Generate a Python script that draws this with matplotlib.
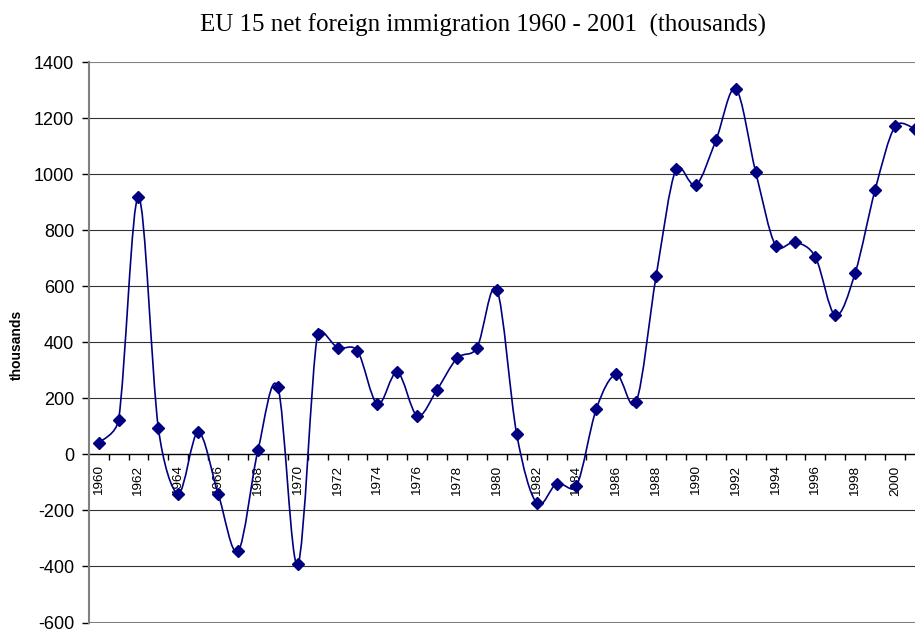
"""EU 15 net foreign immigration 1960 - 2001, Excel-style smoothed line chart."""

import matplotlib

matplotlib.use("Agg")  # headless-safe backend
import matplotlib.pyplot as plt
import numpy as np
from matplotlib.path import Path
from matplotlib.patches import PathPatch

# --------------------------------------------------------------------- #
# Data (thousands)
# --------------------------------------------------------------------- #
YEARS = list(range(1960, 2002))
NET_IMMIGRATION = [
    40, 124, 919, 93, -140, 79, -140, -346, 14, 240,     # 1960-1969
    -393, 431, 381, 369, 179, 293, 138, 231, 343, 380,   # 1970-1979
    588, 71, -174, -105, -113, 163, 285, 187, 636, 1018,  # 1980-1989
    961, 1120, 1304, 1008, 745, 757, 704, 496, 648, 944,  # 1990-1999
    1170, 1162,                                           # 2000-2001
]
Y_TICKS = list(range(-600, 1401, 200))
LABELLED_YEARS = YEARS[::2]

TITLE = "EU 15 net foreign immigration 1960 - 2001  (thousands)"
NAVY = "#000080"
W, H, DPI = 915, 630, 100

# plot area in pixels (runs slightly past the right edge, as in the original)
PX_LEFT, PX_RIGHT = 88.7, 924.9
PX_TOP, PX_BOTTOM = 62.0, 622.5


def smooth_path(xs, ys, sx, sy):
    """Bezier path through every point (Catmull-Rom handles in screen space,
    each capped at half its segment, close to Excel's smoothed line)."""
    pts = np.column_stack([np.asarray(xs) * sx, np.asarray(ys) * sy]).astype(float)
    n = len(pts)

    def handle(i, j):
        # handle at point i, pointing along the segment towards point j
        h = (pts[min(i + 1, n - 1)] - pts[max(i - 1, 0)]) / 6.0
        cap = np.hypot(*(pts[j] - pts[i])) / 2.0
        size = np.hypot(*h)
        if size > cap:
            h *= cap / size
        return h

    verts = [pts[0]]
    codes = [Path.MOVETO]
    for i in range(n - 1):
        verts += [pts[i] + handle(i, i + 1),
                  pts[i + 1] - handle(i + 1, i),
                  pts[i + 1]]
        codes += [Path.CURVE4] * 3
    verts = np.array(verts) / [sx, sy]
    return Path(verts, codes)


fig = plt.figure(figsize=(W / DPI, H / DPI), dpi=DPI)
ax = fig.add_axes([PX_LEFT / W, (H - PX_BOTTOM) / H,
                   (PX_RIGHT - PX_LEFT) / W, (PX_BOTTOM - PX_TOP) / H])

x = np.arange(len(YEARS))
ax.set_xlim(-0.5, len(YEARS) - 0.5)
ax.set_ylim(-600, 1400)

# gridlines
for v in Y_TICKS:
    if v in (-600, 1400):
        ax.axhline(v, color="#808080", lw=1.5, zorder=1)
    elif v != 0:
        ax.axhline(v, color="#333333", lw=0.8, zorder=1)

# data
px_per_year = (PX_RIGHT - PX_LEFT) / len(YEARS)
px_per_unit = (PX_BOTTOM - PX_TOP) / 2000
ax.add_patch(PathPatch(smooth_path(x, NET_IMMIGRATION, px_per_year, px_per_unit),
                       fill=False, edgecolor=NAVY, lw=1.2, zorder=3))
ax.plot(x, NET_IMMIGRATION, ls="none", marker="D", ms=6.3,
        color=NAVY, zorder=4)

# spines / axes
for side in ("top", "right"):
    ax.spines[side].set_visible(False)
ax.spines["left"].set_color("#808080")
ax.spines["left"].set_linewidth(1.5)
ax.spines["bottom"].set_position(("data", 0))
ax.spines["bottom"].set_color("black")
ax.spines["bottom"].set_linewidth(1.0)
ax.spines["bottom"].set_zorder(2)

ax.set_yticks(Y_TICKS)
ax.set_yticklabels([str(v) for v in Y_TICKS], fontfamily="Liberation Sans",
                   fontsize=13)
ax.tick_params(axis="y", direction="out", length=5, width=1, pad=5.5,
               color="black")

ax.set_xticks([YEARS.index(y) for y in LABELLED_YEARS])
ax.set_xticklabels([str(y) for y in LABELLED_YEARS], rotation=90,
                   fontfamily="Liberation Sans", fontsize=9.7)
ax.set_xticks(x[:-1] + 0.5, minor=True)
ax.tick_params(axis="x", which="major", length=0, pad=8)
ax.tick_params(axis="x", which="minor", direction="out", length=4.5,
               width=1, color="black")

fig.text(17 / W, 1 - 345 / H, "thousands", rotation=90, ha="center",
         va="center", fontfamily="Liberation Sans", fontweight="bold",
         fontsize=10)
fig.text(482.5 / W, 1 - 25 / H, TITLE, ha="center", va="center",
         fontfamily="Liberation Serif", fontsize=18)

fig.savefig("out.png", dpi=DPI)
